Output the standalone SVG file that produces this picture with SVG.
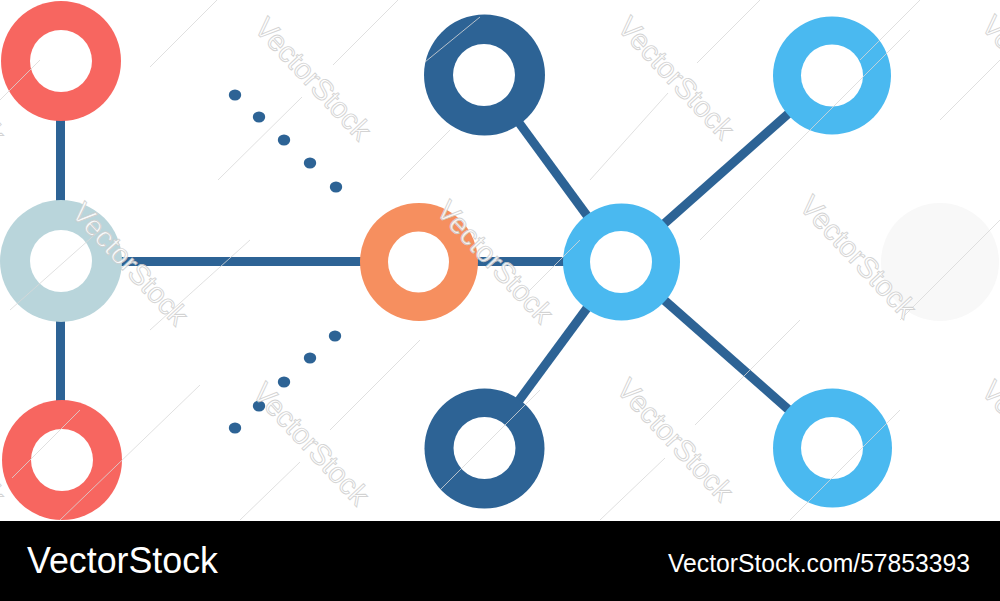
<svg xmlns="http://www.w3.org/2000/svg" width="1000" height="601" viewBox="0 0 1000 601">
<style>
.edge{stroke:#2D6395;stroke-width:9;fill:none;stroke-linecap:butt}
.dot{fill:#2D6395}
.hole{fill:#FFFFFF}
.wm{font-family:"Liberation Sans",Arial,sans-serif;font-size:29px;fill:#FFFFFF;stroke:#CFCFCF;stroke-width:0.9;opacity:0.9}
.wl{stroke:#D8D8D8;stroke-width:1;fill:none;opacity:0.8}
.foot{font-family:"Liberation Sans",Arial,sans-serif;fill:#FFFFFF}
</style>
<rect x="0" y="0" width="1000" height="601" fill="#FFFFFF"/>
<circle id="ghost" cx="940" cy="262" r="59" fill="#F8F8F8"/>
<g id="connectors">
<line class="edge" x1="60.5" y1="110" x2="60.5" y2="210"/>
<line class="edge" x1="60.5" y1="310" x2="60.5" y2="410"/>
<line class="edge" x1="100" y1="261.5" x2="600" y2="261.5"/>
<line class="edge" x1="621" y1="262" x2="484" y2="75"/>
<line class="edge" x1="621" y1="262" x2="832" y2="75"/>
<line class="edge" x1="621" y1="262" x2="484" y2="448"/>
<line class="edge" x1="621" y1="262" x2="832" y2="448"/>
<g id="dots-top">
<ellipse class="dot" cx="235" cy="95" rx="6.2" ry="5.6"/>
<ellipse class="dot" cx="259" cy="117" rx="6.2" ry="5.6"/>
<ellipse class="dot" cx="284" cy="140" rx="6.2" ry="5.6"/>
<ellipse class="dot" cx="310" cy="163" rx="6.2" ry="5.6"/>
<ellipse class="dot" cx="336" cy="187" rx="6.2" ry="5.6"/>
</g>
<g id="dots-bottom">
<ellipse class="dot" cx="235" cy="428" rx="6.2" ry="5.6"/>
<ellipse class="dot" cx="259" cy="406" rx="6.2" ry="5.6"/>
<ellipse class="dot" cx="284" cy="382" rx="6.2" ry="5.6"/>
<ellipse class="dot" cx="310" cy="358" rx="6.2" ry="5.6"/>
<ellipse class="dot" cx="335" cy="336" rx="6.2" ry="5.6"/>
</g>
</g>
<g id="node-red-top"><circle cx="61" cy="61" r="60" fill="#F76660"/><circle class="hole" cx="61" cy="61" r="31"/></g>
<g id="node-grey"><circle cx="61" cy="261" r="61" fill="#B9D5DB"/><circle class="hole" cx="61" cy="261" r="31"/></g>
<g id="node-red-bottom"><circle cx="62" cy="460" r="60" fill="#F76660"/><circle class="hole" cx="62" cy="460" r="31"/></g>
<g id="node-orange"><circle cx="419" cy="262" r="59" fill="#F68F5F"/><circle class="hole" cx="418.5" cy="262" r="30.5"/></g>
<g id="node-center"><circle cx="621.5" cy="262" r="58.5" fill="#4AB9F0"/><circle class="hole" cx="621" cy="262" r="31"/></g>
<g id="node-dark-top"><circle cx="484.5" cy="75" r="60.5" fill="#2D6395"/><circle class="hole" cx="484" cy="75" r="31"/></g>
<g id="node-light-top"><circle cx="832" cy="75.5" r="59" fill="#4AB9F0"/><circle class="hole" cx="832" cy="75.5" r="31"/></g>
<g id="node-dark-bottom"><circle cx="484.5" cy="448.5" r="60" fill="#2D6395"/><circle class="hole" cx="484.5" cy="448" r="31"/></g>
<g id="node-light-bottom"><circle cx="832.5" cy="448" r="59.5" fill="#4AB9F0"/><circle class="hole" cx="832" cy="448" r="31"/></g>
<g id="watermark-lines">
<line class="wl" x1="150" y1="67" x2="217" y2="0"/>
<line class="wl" x1="333" y1="65" x2="398" y2="0"/>
<line class="wl" x1="218" y1="180" x2="302" y2="97"/>
<line class="wl" x1="400" y1="180" x2="450" y2="130"/>
<line class="wl" x1="425" y1="62" x2="480" y2="17"/>
<line class="wl" x1="697" y1="63" x2="760" y2="0"/>
<line class="wl" x1="590" y1="180" x2="668" y2="93"/>
<line class="wl" x1="700" y1="240" x2="910" y2="30"/>
<line class="wl" x1="0" y1="100" x2="40" y2="60"/>
<line class="wl" x1="10" y1="310" x2="100" y2="230"/>
<line class="wl" x1="150" y1="330" x2="250" y2="240"/>
<line class="wl" x1="12" y1="478" x2="80" y2="410"/>
<line class="wl" x1="60" y1="520" x2="200" y2="385"/>
<line class="wl" x1="240" y1="520" x2="300" y2="462"/>
<line class="wl" x1="330" y1="430" x2="420" y2="340"/>
<line class="wl" x1="440" y1="490" x2="540" y2="390"/>
<line class="wl" x1="600" y1="520" x2="665" y2="458"/>
<line class="wl" x1="695" y1="425" x2="800" y2="320"/>
<line class="wl" x1="790" y1="520" x2="900" y2="410"/>
<line class="wl" x1="900" y1="320" x2="1000" y2="220"/>
<line class="wl" x1="940" y1="120" x2="1000" y2="60"/>
<line class="wl" x1="860" y1="60" x2="920" y2="0"/>
<line class="wl" x1="520" y1="300" x2="580" y2="240"/>
</g>
<g id="watermark-text">
<text class="wm" transform="translate(-113,33) rotate(47)">VectorStock</text>
<text class="wm" transform="translate(253,29) rotate(47)">VectorStock</text>
<text class="wm" transform="translate(616,28) rotate(47)">VectorStock</text>
<text class="wm" transform="translate(980,27) rotate(47)">VectorStock</text>
<text class="wm" transform="translate(70,214) rotate(47)">VectorStock</text>
<text class="wm" transform="translate(435,212) rotate(47)">VectorStock</text>
<text class="wm" transform="translate(798,207) rotate(47)">VectorStock</text>
<text class="wm" transform="translate(-113,394) rotate(47)">VectorStock</text>
<text class="wm" transform="translate(251,394) rotate(47)">VectorStock</text>
<text class="wm" transform="translate(615,390) rotate(47)">VectorStock</text>
<text class="wm" transform="translate(980,392) rotate(47)">VectorStock</text>
</g>
<g id="footer">
<rect x="0" y="521" width="1000" height="80" fill="#000000"/>
<text class="foot" x="27" y="573" font-size="36" textLength="191" lengthAdjust="spacingAndGlyphs">VectorStock</text>
<text class="foot" x="668" y="572" font-size="26" textLength="302" lengthAdjust="spacingAndGlyphs">VectorStock.com/57853393</text>
</g>
</svg>
